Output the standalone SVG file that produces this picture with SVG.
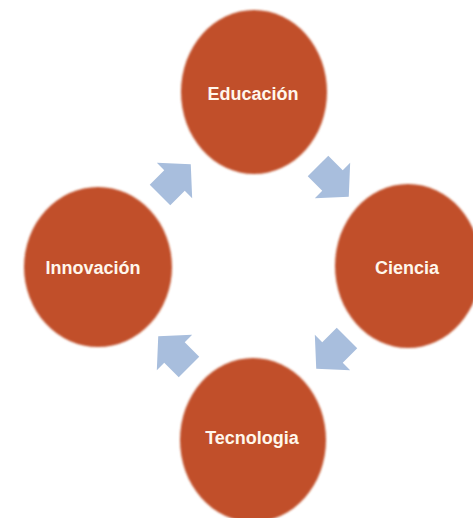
<svg xmlns="http://www.w3.org/2000/svg" width="473" height="518" viewBox="0 0 473 518">
<defs>
<filter id="soft" x="-10%" y="-10%" width="120%" height="120%"><feGaussianBlur stdDeviation="1.3"/></filter>
<path id="arr" d="M-20.5,-14.5 L0,-14.5 L0,-25 L23,0 L0,25 L0,14.5 L-20.5,14.5 Z"/>
</defs>
<style>
.node ellipse{fill:#c1502a;filter:url(#soft)}
.node text{font-family:"Liberation Sans",Arial,sans-serif;font-weight:bold;font-size:18px;fill:#fff7ec;text-anchor:middle}
.conn use{fill:#a8bedd}
</style>
<rect width="473" height="518" fill="#ffffff"/>
<g id="connectors" class="conn">
<use href="#arr" transform="translate(174.5,180.5) rotate(-45)"/>
<use href="#arr" transform="translate(332.5,180.5) rotate(45)"/>
<use href="#arr" transform="translate(332.5,352.5) rotate(135)"/>
<use href="#arr" transform="translate(174.5,352.5) rotate(-135)"/>
</g>
<g id="educacion" class="node"><ellipse cx="254" cy="92" rx="73" ry="82"/><text x="253" y="99.5">Educación</text></g>
<g id="ciencia" class="node"><ellipse cx="408" cy="266" rx="73" ry="82"/><text x="407" y="274">Ciencia</text></g>
<g id="tecnologia" class="node"><ellipse cx="253" cy="440" rx="73" ry="82"/><text x="252" y="444">Tecnologia</text></g>
<g id="innovacion" class="node"><ellipse cx="98" cy="267" rx="74" ry="80"/><text x="93" y="274">Innovación</text></g>
</svg>
